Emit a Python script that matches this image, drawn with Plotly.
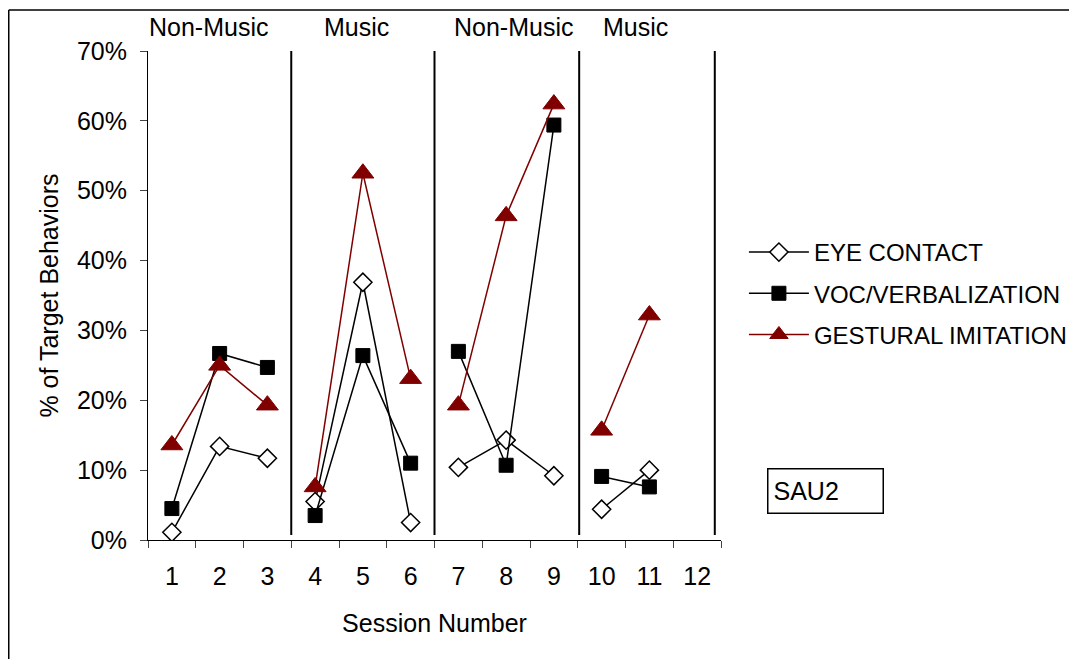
import plotly.graph_objects as go

sessions = list(range(1, 13))
eye_contact = [1.1, 13.4, 11.7, 5.5, 36.9, 2.5, 10.4, 14.3, 9.2, 4.4, 10.0, None]
voc_verbal = [4.5, 26.7, 24.7, 3.5, 26.4, 11.0, 27.0, 10.7, 59.4, 9.1, 7.6, None]
gestural = [13.6, 25.0, 19.3, 7.6, 52.5, 23.1, 19.3, 46.4, 62.4, 15.7, 32.2, None]

phase_names = ["Non-Music", "Music", "Non-Music", "Music"]
phase_sessions = [[1, 2, 3], [4, 5, 6], [7, 8, 9], [10, 11, 12]]
phase_label_x = [1.76, 4.86, 8.15, 10.7]
separator_x = [3.5, 6.5, 9.53, 12.37]

y_ticks = [0, 10, 20, 30, 40, 50, 60, 70]

FONT = "Liberation Sans, Arial, sans-serif"
DARKRED = "#800000"
FS = 25

series = [
    ("EYE CONTACT", eye_contact, dict(symbol="diamond", size=14, color="white",
                                      line=dict(color="black", width=1.5)), "black"),
    ("VOC/VERBALIZATION", voc_verbal, dict(symbol="square", size=14, color="black",
                                           line=dict(color="black", width=1)), "black"),
    ("GESTURAL IMITATION", gestural, dict(symbol="triangle-up", size=19, color=DARKRED,
                                          line=dict(color=DARKRED, width=1)), DARKRED),
]

fig = go.Figure()
for name, vals, marker, lc in series:
    for pi, ps in enumerate(phase_sessions):
        xs = [s for s in ps if vals[s - 1] is not None]
        ys = [vals[s - 1] / 100 for s in xs]
        if not xs:
            continue
        fig.add_trace(go.Scatter(
            x=xs, y=ys, mode="lines+markers", name=name,
            legendgroup=name, showlegend=(pi == 0),
            line=dict(color=lc, width=1.5), marker=marker,
        ))

shapes = []
for sx in separator_x:
    shapes.append(dict(type="line", xref="x", yref="y", x0=sx, x1=sx, y0=0.007, y1=0.712,
                       line=dict(color="black", width=2)))
# outer frame (top and left edges)
shapes.append(dict(type="line", xref="paper", yref="paper", x0=-0.2430, x1=1.63, y0=1.0838, y1=1.0838,
                   line=dict(color="black", width=1.5)))
shapes.append(dict(type="line", xref="paper", yref="paper", x0=-0.2430, x1=-0.2430, y0=1.0838, y1=-0.25,
                   line=dict(color="black", width=1.5)))

annotations = []
for nm, lx in zip(phase_names, phase_label_x):
    annotations.append(dict(x=lx, y=1.05, xref="x", yref="paper", text=nm, showarrow=False,
                            font=dict(family=FONT, size=FS, color="black"),
                            xanchor="center", yanchor="middle"))
annotations.append(dict(x=1.1832, y=0.0992, xref="paper", yref="paper", text="SAU2", showarrow=False,
                        font=dict(family=FONT, size=FS, color="black"), align="left",
                        xanchor="center", yanchor="middle", width=104, height=33,
                        bordercolor="black", borderwidth=1.5, borderpad=5, bgcolor="white"))

fig.update_layout(
    width=1069, height=651,
    margin=dict(l=140, r=356, t=43, b=119, autoexpand=False),
    plot_bgcolor="white", paper_bgcolor="white",
    font=dict(family=FONT, size=FS, color="black"),
    showlegend=True,
    legend=dict(x=1.040, y=0.634, xanchor="left", yanchor="top", bgcolor="rgba(0,0,0,0)",
                font=dict(family=FONT, size=24, color="black"), itemwidth=60,
                tracegroupgap=7),
    shapes=shapes, annotations=annotations,
    xaxis=dict(range=[0.5, 12.5], tickmode="array", tickvals=sessions,
               ticktext=[str(s) for s in sessions], ticks="", showline=True,
               linecolor="black", linewidth=1, showgrid=False, zeroline=False,
               ticklabelstandoff=14, tickfont=dict(size=FS),
               minor=dict(tickmode="array", tickvals=[s - 0.5 for s in sessions] + [12.5],
                          ticks="outside", ticklen=7, tickcolor="#444", showgrid=False),
               title=dict(text="Session Number", font=dict(size=FS), standoff=25)),
    yaxis=dict(range=[0, 0.7], tickmode="array", tickvals=[t / 100 for t in y_ticks],
               tickformat=".0%", ticks="outside", ticklen=7, tickcolor="#444",
               showline=True, linecolor="black", linewidth=1, showgrid=False, zeroline=False,
               ticklabelstandoff=8, tickfont=dict(size=FS),
               title=dict(text="% of Target Behaviors", font=dict(size=FS), standoff=11)),
)

fig.write_html("out.html")
